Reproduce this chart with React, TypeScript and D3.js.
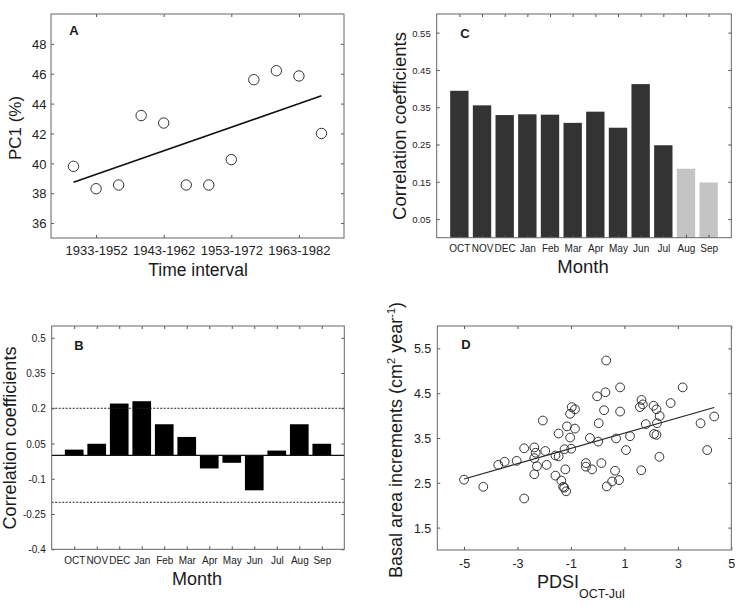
import { useEffect, useRef } from 'react';
import * as d3 from 'd3';

const W = 748;
const H = 608;
const FONT = '"Liberation Sans", Arial, Helvetica, sans-serif';

// A: PC1 over moving windows
const pc1Values = [39.8, 38.3, 38.55, 43.2, 42.7, 38.55, 38.55, 40.25, 45.6, 46.2, 45.85, 42.0];
const intervalTickIdx = [1, 4, 7, 10];
const intervalLabels = ['1933-1952', '1943-1962', '1953-1972', '1963-1982'];
const pc1Ticks = [36, 38, 40, 42, 44, 46, 48];

// B + C: monthly correlations
const months = ['OCT', 'NOV', 'DEC', 'Jan', 'Feb', 'Mar', 'Apr', 'May', 'Jun', 'Jul', 'Aug', 'Sep'];
const corrB = [0.024, 0.049, 0.22, 0.23, 0.132, 0.078, -0.056, -0.032, -0.149, 0.02, 0.132, 0.049];
const corrC = [0.394, 0.355, 0.329, 0.331, 0.33, 0.308, 0.338, 0.295, 0.412, 0.248, 0.185, 0.148];
const sigC = [true, true, true, true, true, true, true, true, true, true, false, false];
const ticksB = [-0.4, -0.25, -0.1, 0.05, 0.2, 0.35, 0.5];
const ticksC = [0.05, 0.15, 0.25, 0.35, 0.45, 0.55];
const thresholdB = 0.2;

// D: BAI vs PDSI
const pdsi = [-5.0, -4.28, -3.72, -3.48, -3.03, -2.75, -2.75, -2.37, -2.32, -2.37, -2.37, -2.27, -2.05, -1.96,
  -1.91, -1.58, -1.58, -1.46, -1.46, -1.36, -1.29, -1.25, -1.18, -1.21, -1.24, -1.15, -0.99, -1.03, -1.03,
  -0.97, -0.85, -0.85, -0.44, -0.44, -0.29, -0.21, -0.02, 0.04, 0.02, 0.14, 0.24, 0.29, 0.32, 0.34, 0.54,
  0.65, 0.69, 0.8, 0.84, 0.84, 1.06, 1.21, 1.63, 1.58, 1.64, 1.69, 1.8, 2.09, 2.11, 2.2, 2.2, 2.22, 2.32,
  2.31, 2.73, 3.18, 3.85, 4.1, 4.36];
const bai = [2.57, 2.41, 2.9, 2.97, 2.99, 2.15, 3.27, 3.29, 3.17, 3.05, 2.69, 2.87, 3.89, 3.21,
  2.9, 3.11, 2.66, 3.6, 3.09, 2.55, 2.41, 2.39, 2.31, 2.8, 3.25, 3.76, 3.26, 3.51, 4.04,
  4.19, 4.14, 3.71, 2.94, 2.86, 3.5, 2.8, 4.43, 3.83, 3.42, 2.94, 4.12, 4.52, 5.23, 2.42, 2.53,
  2.77, 3.49, 2.56, 4.63, 4.09, 3.23, 3.54, 2.78, 4.19, 4.35, 4.25, 3.81, 4.22, 3.59, 3.57, 4.14, 3.83, 3.99,
  3.08, 4.28, 4.63, 3.83, 3.23, 3.98];
const pdsiTicks = [-5, -3, -1, 1, 3, 5];
const baiTicks = [1.5, 2.5, 3.5, 4.5, 5.5];

type Box = { x0: number; x1: number; y0: number; y1: number };

const fit = (xs: number[], ys: number[]) => {
  const mx = d3.mean(xs)!;
  const my = d3.mean(ys)!;
  let sxy = 0;
  let sxx = 0;
  xs.forEach((x, i) => {
    sxy += (x - mx) * (ys[i] - my);
    sxx += (x - mx) * (x - mx);
  });
  const b = sxy / sxx;
  return (x: number) => my + b * (x - mx);
};

function frame(
  svg: d3.Selection<SVGSVGElement, unknown, null, undefined>,
  box: Box,
  x: d3.ScaleLinear<number, number>,
  y: d3.ScaleLinear<number, number>,
  xTicks: number[],
  xLabels: (d: number) => string,
  yTicks: number[],
  yLabels: (d: number) => string,
  o: { xSize: number; ySize: number; xBase: number; yGap: number }
) {
  const g = svg.append('g');
  const styleTicks = (sel: any) => {
    sel.select('.domain').remove();
    sel.selectAll('.tick line').attr('stroke', '#555');
  };
  g.append('g')
    .attr('transform', `translate(${box.x0},0)`)
    .call(d3.axisLeft(y).tickValues(yTicks).tickSize(-3).tickFormat(yLabels as any))
    .call(styleTicks)
    .selectAll('text')
    .attr('x', -o.yGap)
    .attr('dy', '0.36em')
    .attr('font-size', o.ySize)
    .attr('font-family', FONT)
    .attr('fill', '#222');
  g.append('g')
    .attr('transform', `translate(${box.x1},0)`)
    .call(d3.axisRight(y).tickValues(yTicks).tickSize(-3).tickFormat(() => ''))
    .call(styleTicks);
  g.append('g')
    .attr('transform', `translate(0,${box.y1})`)
    .call(d3.axisBottom(x).tickValues(xTicks).tickSize(-3).tickFormat(xLabels as any))
    .call(styleTicks)
    .selectAll('text')
    .attr('y', o.xBase)
    .attr('dy', 0)
    .attr('font-size', o.xSize)
    .attr('font-family', FONT)
    .attr('fill', '#222');
  g.append('g')
    .attr('transform', `translate(0,${box.y0})`)
    .call(d3.axisTop(x).tickValues(xTicks).tickSize(-3).tickFormat(() => ''))
    .call(styleTicks);
  g.append('rect')
    .attr('x', box.x0)
    .attr('y', box.y0)
    .attr('width', box.x1 - box.x0)
    .attr('height', box.y1 - box.y0)
    .attr('fill', 'none')
    .attr('stroke', '#666')
    .attr('stroke-width', 1);
}

function label(svg: any, text: string, x: number, y: number, size: number, rotate = false, bold = false) {
  svg.append('text')
    .attr('transform', `translate(${x},${y})${rotate ? ' rotate(-90)' : ''}`)
    .attr('text-anchor', 'middle')
    .attr('dy', rotate ? '0.36em' : 0)
    .attr('font-family', FONT)
    .attr('font-size', size)
    .attr('font-weight', bold ? 'bold' : 'normal')
    .attr('fill', '#1a1a1a')
    .text(text);
}

export default function App() {
  const svgRef = useRef<SVGSVGElement>(null);

  useEffect(() => {
    if (!svgRef.current) return;
    const svg = d3.select(svgRef.current);
    svg.selectAll('*').remove();
    const idx = d3.range(months.length);

    // ---- A ----
    const boxA = { x0: 51, x1: 344, y0: 14, y1: 238 };
    const xA = d3.scaleLinear().domain([-1, 12]).range([boxA.x0, boxA.x1]);
    const yA = d3.scaleLinear().domain([35, 50]).range([boxA.y1, boxA.y0]);
    const fA = fit(d3.range(pc1Values.length), pc1Values);
    svg.append('line')
      .attr('x1', xA(0)).attr('y1', yA(fA(0)))
      .attr('x2', xA(pc1Values.length - 1)).attr('y2', yA(fA(pc1Values.length - 1)))
      .attr('stroke', '#111').attr('stroke-width', 1.6);
    svg.append('g').selectAll('circle').data(pc1Values).join('circle')
      .attr('cx', (_, i) => xA(i)).attr('cy', (d) => yA(d)).attr('r', 5.2)
      .attr('fill', 'white').attr('stroke', '#333').attr('stroke-width', 1);
    frame(svg, boxA, xA, yA, intervalTickIdx, (d) => intervalLabels[intervalTickIdx.indexOf(d)], pc1Ticks, (d) => String(d),
      { xSize: 13, ySize: 13, xBase: 17, yGap: 4.5 });
    label(svg, 'PC1 (%)', 15, 128, 17, true);
    label(svg, 'Time interval', 198, 276, 17.5);
    label(svg, 'A', 74, 35, 13, false, true);

    // ---- B ----
    const boxB = { x0: 51.7, x1: 344.3, y0: 326, y1: 549.3 };
    const xB = d3.scaleLinear().domain([-1, 12]).range([boxB.x0, boxB.x1]);
    const yB = d3.scaleLinear().domain([-0.4, 0.55]).range([boxB.y1, boxB.y0]);
    const bwB = (xB(1) - xB(0)) * 0.83;
    svg.append('g').selectAll('rect').data(corrB).join('rect')
      .attr('x', (_, i) => xB(i) - bwB / 2)
      .attr('y', (d) => yB(Math.max(0, d)))
      .attr('width', bwB)
      .attr('height', (d) => Math.abs(yB(d) - yB(0)))
      .attr('fill', '#000');
    svg.append('line')
      .attr('x1', boxB.x0).attr('x2', boxB.x1).attr('y1', yB(0)).attr('y2', yB(0))
      .attr('stroke', '#111').attr('stroke-width', 1.2);
    [thresholdB, -thresholdB].forEach((t) => {
      svg.append('line')
        .attr('x1', boxB.x0).attr('x2', boxB.x1).attr('y1', yB(t)).attr('y2', yB(t))
        .attr('stroke', '#222').attr('stroke-width', 1).attr('stroke-dasharray', '2,1.5');
    });
    frame(svg, boxB, xB, yB, idx, (d) => months[d], ticksB, (d) => String(d),
      { xSize: 10, ySize: 10, xBase: 14.7, yGap: 6 });
    label(svg, 'Correlation coefficients', 10, 438, 18, true);
    label(svg, 'Month', 197, 585, 18);
    label(svg, 'B', 79, 350, 13, false, true);

    // ---- C ----
    const boxC = { x0: 436.7, x1: 731.3, y0: 14, y1: 237.7 };
    const xC = d3.scaleLinear().domain([-1, 12]).range([boxC.x0, boxC.x1]);
    const yC = d3.scaleLinear().domain([0, 0.6]).range([boxC.y1, boxC.y0]);
    const bwC = (xC(1) - xC(0)) * 0.81;
    svg.append('g').selectAll('rect').data(corrC).join('rect')
      .attr('x', (_, i) => xC(i) - bwC / 2)
      .attr('y', (d) => yC(d))
      .attr('width', bwC)
      .attr('height', (d) => yC(0) - yC(d))
      .attr('fill', (_, i) => (sigC[i] ? '#333333' : '#c4c4c4'));
    frame(svg, boxC, xC, yC, idx, (d) => months[d], ticksC, (d) => d.toFixed(2),
      { xSize: 10, ySize: 9.5, xBase: 14.3, yGap: 6 });
    label(svg, 'Correlation coefficients', 399, 126, 18.5, true);
    label(svg, 'Month', 583, 273, 18.5);
    label(svg, 'C', 465, 38, 13, false, true);

    // ---- D ----
    const boxD = { x0: 437.3, x1: 731.3, y0: 326, y1: 550 };
    const xD = d3.scaleLinear().domain([-6, 5]).range([boxD.x0, boxD.x1]);
    const yD = d3.scaleLinear().domain([1, 6]).range([boxD.y1, boxD.y0]);
    const fD = fit(pdsi, bai);
    const [pMin, pMax] = d3.extent(pdsi) as [number, number];
    svg.append('line')
      .attr('x1', xD(pMin)).attr('y1', yD(fD(pMin)))
      .attr('x2', xD(pMax)).attr('y2', yD(fD(pMax)))
      .attr('stroke', '#222').attr('stroke-width', 1.2);
    svg.append('g').selectAll('circle').data(pdsi).join('circle')
      .attr('cx', (d) => xD(d)).attr('cy', (_, i) => yD(bai[i])).attr('r', 4.4)
      .attr('fill', 'none').attr('stroke', '#333').attr('stroke-width', 1);
    frame(svg, boxD, xD, yD, pdsiTicks, (d) => String(d), baiTicks, (d) => d.toFixed(1),
      { xSize: 12.5, ySize: 12.5, xBase: 18, yGap: 6 });
    const yl = svg.append('text')
      .attr('transform', 'translate(396,578) rotate(-90)')
      .attr('dy', '0.36em')
      .attr('font-family', FONT).attr('font-size', 18).attr('fill', '#1a1a1a');
    yl.append('tspan').text('Basal area increments (cm');
    yl.append('tspan').attr('dy', -7).attr('font-size', 11).text('2');
    yl.append('tspan').attr('dy', 7).text(' year');
    yl.append('tspan').attr('dy', -7).attr('font-size', 11).text('-1');
    yl.append('tspan').attr('dy', 7).text(')');
    const xl = svg.append('text')
      .attr('x', 537).attr('y', 588)
      .attr('font-family', FONT).attr('font-size', 18).attr('fill', '#1a1a1a');
    xl.append('tspan').text('PDSI');
    xl.append('tspan').attr('dy', 9.5).attr('font-size', 12.5).text('OCT-Jul');
    label(svg, 'D', 466, 349, 13, false, true);
  }, []);

  return (
    <svg
      ref={svgRef}
      width={W}
      height={H}
      style={{ position: 'absolute', left: 0, top: 0, background: 'white' }}
    />
  );
}
